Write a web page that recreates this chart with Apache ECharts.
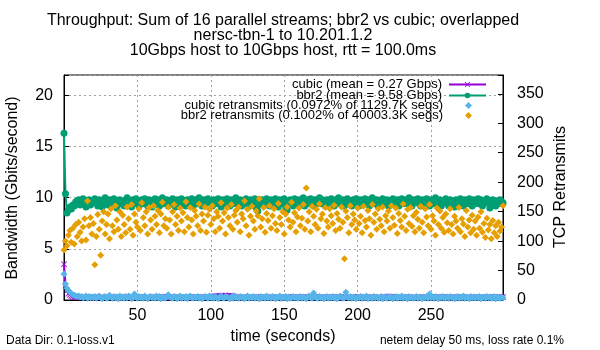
<!DOCTYPE html>
<html>
<head>
<meta charset="utf-8">
<script src="https://cdn.jsdelivr.net/npm/echarts@6/dist/echarts.min.js"></script>
<style>
  html, body { margin: 0; padding: 0; background: #fff; }
  #chart { width: 600px; height: 350px; }
</style>
</head>
<body>
<div id="chart"></div>
<script>
// one sample per second, t = 0 .. 299
var cubicGbps = [
  3.5,1.4,0.9,0.6,0.5,0.4,0.35,0.3,0.3,0.25,0.3,0.28,0.25,0.3,0.27,0.22,0.3,0.26,0.28,0.24,
  0.26,0.3,0.24,0.28,0.22,0.27,0.31,0.25,0.23,0.29,0.26,0.24,0.3,0.27,0.22,0.28,0.25,0.3,0.24,0.27,
  0.29,0.23,0.26,0.31,0.25,0.22,0.28,0.27,0.24,0.3,0.26,0.23,0.29,0.25,0.28,0.22,0.27,0.3,0.24,0.26,
  0.25,0.29,0.23,0.27,0.3,0.24,0.26,0.22,0.28,0.25,0.31,0.24,0.27,0.23,0.29,0.26,0.25,0.3,0.22,0.28,
  0.26,0.24,0.3,0.27,0.23,0.29,0.25,0.28,0.22,0.26,0.3,0.24,0.27,0.25,0.29,0.23,0.28,0.26,0.31,0.24,
  0.28,0.32,0.35,0.38,0.4,0.42,0.38,0.41,0.44,0.4,0.43,0.39,0.42,0.45,0.4,0.37,0.33,0.3,0.27,0.25,
  0.27,0.23,0.29,0.26,0.24,0.3,0.22,0.28,0.25,0.27,0.23,0.29,0.26,0.24,0.3,0.25,0.28,0.22,0.27,0.26,
  0.24,0.29,0.25,0.27,0.23,0.3,0.26,0.22,0.28,0.25,0.29,0.24,0.27,0.31,0.25,0.23,0.28,0.26,0.3,0.24,
  0.27,0.25,0.22,0.29,0.26,0.3,0.24,0.28,0.23,0.27,0.25,0.3,0.26,0.22,0.28,0.24,0.29,0.27,0.25,0.23,
  0.28,0.26,0.3,0.24,0.27,0.22,0.29,0.25,0.28,0.26,0.23,0.3,0.27,0.25,0.29,0.24,0.26,0.31,0.23,0.27,
  0.25,0.29,0.26,0.23,0.3,0.27,0.24,0.28,0.22,0.26,0.3,0.25,0.27,0.23,0.29,0.26,0.24,0.28,0.25,0.3,
  0.32,0.35,0.33,0.3,0.27,0.24,0.28,0.26,0.23,0.29,0.25,0.27,0.3,0.24,0.26,0.22,0.28,0.25,0.29,0.27,
  0.24,0.3,0.26,0.23,0.28,0.25,0.29,0.27,0.22,0.26,0.3,0.24,0.28,0.25,0.27,0.23,0.29,0.26,0.31,0.25,
  0.27,0.24,0.29,0.26,0.22,0.28,0.25,0.3,0.27,0.23,0.26,0.29,0.24,0.28,0.25,0.27,0.3,0.22,0.26,0.28,
  0.25,0.29,0.24,0.27,0.3,0.26,0.23,0.28,0.25,0.27,0.29,0.24,0.26,0.3,0.25,0.28,0.23,0.27,0.26,0.29
];
var bbr2Gbps = [
  16.3,10.4,8.5,8.8,9.1,8.9,9.3,9.2,9.6,9.4,9.8,9.3,9.7,9.9,9.4,9.1,9.7,9.8,9.3,9.6,
  9.5,9.9,9.6,9.2,9.8,9.4,9.1,9.7,10.0,9.6,9.3,9.8,9.4,9.6,9.9,9.5,9.0,9.7,9.8,9.4,
  9.6,9.2,9.8,10.0,9.4,9.7,9.1,9.8,9.5,9.9,9.4,9.2,9.7,9.8,9.4,9.9,9.6,9.2,9.8,9.5,
  9.1,9.7,9.9,9.4,9.8,9.2,9.6,10.0,9.4,9.6,9.8,9.2,9.7,9.4,9.9,9.6,9.1,9.8,9.4,9.6,
  9.9,9.4,9.7,9.2,9.8,9.6,9.4,9.9,9.2,9.7,9.8,9.4,10.0,9.6,9.2,9.8,9.4,9.7,9.9,9.5,
  9.6,9.2,9.8,9.4,9.7,9.9,9.4,9.1,9.8,9.6,9.4,9.9,9.7,9.2,9.8,9.4,9.6,10.0,9.4,9.7,
  9.8,9.2,9.6,9.4,9.9,9.7,9.2,9.8,9.4,9.6,9.9,9.0,8.7,9.3,9.7,9.8,9.4,9.6,9.9,9.5,
  9.2,9.8,9.6,9.4,9.9,9.7,9.1,9.8,9.4,9.6,9.9,9.0,8.8,9.5,9.8,9.6,9.2,9.9,9.4,9.7,
  9.8,9.4,9.6,10.0,9.2,9.7,9.8,9.4,9.9,9.6,9.2,9.8,9.4,9.7,10.0,9.4,9.8,9.6,9.2,9.8,
  9.4,9.7,9.9,9.4,9.2,9.8,9.6,10.0,9.4,9.7,9.8,9.2,9.6,9.9,9.4,9.7,9.2,9.8,9.5,9.9,
  9.6,9.2,9.8,9.4,9.7,9.9,9.4,9.8,9.2,9.6,10.0,9.4,9.7,9.8,9.2,9.6,9.4,9.9,9.7,9.4,
  9.8,9.2,9.6,9.4,9.9,9.7,9.4,9.8,9.2,9.6,9.9,9.4,9.7,9.8,9.4,10.0,9.6,9.2,9.8,9.5,
  9.7,9.9,9.4,9.2,9.8,9.6,9.4,9.9,9.7,9.2,9.8,9.4,9.6,10.0,9.4,9.7,9.8,9.2,9.6,9.5,
  9.9,9.6,9.2,9.8,9.4,9.7,9.1,9.8,9.4,9.6,9.9,9.4,9.2,9.8,9.6,9.4,9.9,9.7,9.2,9.8,
  9.4,9.7,9.9,9.4,9.8,9.2,9.6,9.5,9.9,9.7,9.0,9.4,9.8,9.6,9.2,9.7,9.4,9.8,9.6,9.5
];
var cubicRetrans = [
  44,27,20,16,13,11,9,8,7,6,7,5,6,4,5,7,3,6,4,5,
  4,6,3,5,7,4,2,5,6,3,4,8,5,3,6,4,5,2,7,4,
  5,3,6,4,7,5,2,4,10,5,3,6,4,5,3,7,4,2,5,6,
  4,5,3,7,4,6,2,5,4,3,6,9,5,4,3,6,5,2,4,7,
  3,5,4,6,2,5,7,4,3,5,4,6,3,5,2,4,6,5,3,7,
  4,5,3,6,4,2,5,7,4,3,6,5,4,2,5,3,7,4,5,3,
  6,4,5,2,4,7,3,5,4,6,3,5,4,2,6,4,5,3,7,4,
  5,3,6,4,2,5,4,7,3,5,4,6,2,5,3,4,6,4,5,3,
  4,6,3,5,4,2,5,7,4,3,12,5,4,3,6,4,5,2,4,6,
  3,5,4,6,3,5,2,4,7,5,3,4,13,5,4,6,3,5,4,2,
  5,4,6,3,5,4,7,2,4,5,3,6,4,5,3,4,6,2,5,4,
  3,6,4,5,2,4,6,3,5,4,7,3,5,4,2,6,4,5,3,4,
  6,3,5,4,2,5,4,6,3,10,4,5,3,6,4,2,5,4,6,3,
  4,5,3,6,4,5,2,4,6,3,5,4,7,3,5,4,2,6,4,5,
  3,5,4,6,2,4,5,3,6,4,5,3,4,6,2,5,4,3,5,4
];
var bbr2Retrans = [
  85,100,92,110,118,98,122,95,128,108,132,115,100,124,138,102,168,126,140,112,
  130,60,108,145,120,76,134,150,112,128,146,104,155,126,116,160,136,120,150,108,
  144,128,114,158,138,120,162,110,146,132,124,155,118,165,140,126,150,112,157,136,
  120,160,142,128,152,114,146,166,126,138,122,158,136,112,150,162,128,142,118,156,
  134,148,116,167,140,124,157,136,112,152,142,126,163,118,146,134,158,115,144,154,
  128,160,138,116,150,142,122,165,134,148,112,156,140,126,162,120,144,152,132,158,
  116,146,138,168,126,154,110,142,159,134,120,151,143,172,124,138,157,115,147,135,
  160,122,143,155,130,118,164,140,128,150,112,146,158,136,124,166,132,148,116,141,
  156,126,139,162,120,190,134,150,116,159,142,128,154,122,163,138,146,113,157,134,
  124,155,143,130,161,118,147,137,122,158,132,70,151,140,114,160,128,146,136,120,
  156,130,142,114,159,135,124,152,138,110,162,132,146,120,155,137,126,158,116,143,
  134,151,122,160,140,127,156,113,147,135,124,163,142,118,154,130,157,125,143,116,
  149,137,122,159,132,114,155,141,126,162,120,143,134,110,156,128,151,122,140,115,
  146,131,118,155,128,112,142,134,122,157,116,138,129,108,152,124,136,114,144,120,
  134,110,141,122,150,115,130,106,139,119,128,104,135,114,126,108,132,117,124,160
];
var seriesNames = [
  'cubic (mean = 0.27 Gbps)',
  'bbr2 (mean = 9.58 Gbps)',
  'cubic retransmits (0.0972% of 1129.7K segs)',
  'bbr2 retransmits (0.1002% of 40003.3K segs)'
];
var titleLines = [
  'Throughput: Sum of 16 parallel streams; bbr2 vs cubic; overlapped',
  'nersc-tbn-1 to 10.201.1.2',
  '10Gbps host to 10Gbps host, rtt = 100.0ms'
];

function pairs(arr) {
  return arr.map(function (v, i) { return [i, v]; });
}

var FONT = 'Liberation Sans, Arial, sans-serif';
var xMark = 'path://M0,1 L1,0 L5,4 L9,0 L10,1 L6,5 L10,9 L9,10 L5,6 L1,10 L0,9 L4,5 Z';
var diamond = 'path://M5,0 L10,5 L5,10 L0,5 Z';
var grey = '#a0a0a0';

var legendRows = [84, 95, 105, 115];
var legends = seriesNames.map(function (n, i) {
  var isScatter = i >= 2;
  return {
    data: [n],
    right: isScatter ? 128 : 113,
    top: legendRows[i] - 6,
    padding: 0,
    align: 'right',
    itemWidth: isScatter ? 7 : 37,
    itemHeight: 7,
    selectedMode: false,
    textStyle: {
      fontFamily: FONT, fontSize: 13, color: '#000',
      padding: [0, isScatter ? 17 : 2, 0, 0]
    }
  };
});

var myChart = echarts.init(document.getElementById('chart'));
var option = {
  animation: false,
  grid: {
    left: 64, right: 97, top: 75, bottom: 50,
    show: true, borderColor: '#000', borderWidth: 1
  },
  legend: legends,
  xAxis: {
    type: 'value', min: 0, max: 299, interval: 50,
    axisLine: { lineStyle: { color: '#000' } },
    axisTick: { inside: true, length: 5, lineStyle: { color: '#000' } },
    axisLabel: {
      margin: 8, color: '#000', fontFamily: FONT, fontSize: 16,
      formatter: function (v) { return (v === 0 || v % 50) ? '' : v; }
    },
    splitLine: { show: true, lineStyle: { color: grey, type: [2, 3] } }
  },
  yAxis: [{
    type: 'value', min: 0, max: 22, interval: 5,
    axisLine: { show: true, lineStyle: { color: '#000' } },
    axisTick: { show: true, inside: true, length: 5, lineStyle: { color: '#000' } },
    axisLabel: {
      margin: 11, color: '#000', fontFamily: FONT, fontSize: 16,
      formatter: function (v) { return v % 5 ? '' : v; }
    },
    splitLine: { show: true, lineStyle: { color: grey, type: [2, 3] } }
  }, {
    type: 'value', min: 0, max: 382, interval: 50, position: 'right',
    axisLine: { show: true, lineStyle: { color: '#000' } },
    axisTick: { show: true, inside: true, length: 5, lineStyle: { color: '#000' } },
    axisLabel: {
      margin: 14, color: '#000', fontFamily: FONT, fontSize: 16,
      formatter: function (v) { return v % 50 ? '' : v; }
    },
    splitLine: { show: false }
  }],
  series: [{
    name: seriesNames[0], type: 'line', data: pairs(cubicGbps), z: 2,
    symbol: xMark, symbolSize: 6, showAllSymbol: true,
    itemStyle: { color: '#9400d3' }, lineStyle: { color: '#9400d3', width: 2 }
  }, {
    name: seriesNames[1], type: 'line', data: pairs(bbr2Gbps), z: 3,
    symbol: 'circle', symbolSize: 7, showAllSymbol: true,
    itemStyle: { color: '#009e73' }, lineStyle: { color: '#009e73', width: 2 }
  }, {
    name: seriesNames[2], type: 'scatter', yAxisIndex: 1, data: pairs(cubicRetrans), z: 4,
    symbol: diamond, symbolSize: 7, itemStyle: { color: '#56b4e9', opacity: 1 }
  }, {
    name: seriesNames[3], type: 'scatter', yAxisIndex: 1, data: pairs(bbr2Retrans), z: 5,
    symbol: diamond, symbolSize: 7, itemStyle: { color: '#e69f00', opacity: 1 }
  }],
  graphic: [
    { type: 'text', x: 283, y: 21, style: { text: titleLines[0], font: '16px ' + FONT, fill: '#000', textAlign: 'center', textVerticalAlign: 'middle' } },
    { type: 'text', x: 283, y: 36, style: { text: titleLines[1], font: '16px ' + FONT, fill: '#000', textAlign: 'center', textVerticalAlign: 'middle' } },
    { type: 'text', x: 283, y: 51, style: { text: titleLines[2], font: '16px ' + FONT, fill: '#000', textAlign: 'center', textVerticalAlign: 'middle' } },
    { type: 'text', x: 13, y: 188, rotation: Math.PI / 2, style: { text: 'Bandwidth (Gbits/second)', font: '16px ' + FONT, fill: '#000', textAlign: 'center', textVerticalAlign: 'middle' } },
    { type: 'text', x: 561, y: 187, rotation: Math.PI / 2, style: { text: 'TCP Retransmits', font: '16px ' + FONT, fill: '#000', textAlign: 'center', textVerticalAlign: 'middle' } },
    { type: 'text', x: 283, y: 337, style: { text: 'time (seconds)', font: '16px ' + FONT, fill: '#000', textAlign: 'center', textVerticalAlign: 'middle' } },
    { type: 'text', x: 6, y: 341, style: { text: 'Data Dir: 0.1-loss.v1', font: '12px ' + FONT, fill: '#000', textAlign: 'left', textVerticalAlign: 'middle' } },
    { type: 'text', x: 564, y: 341, style: { text: 'netem delay 50 ms, loss rate 0.1%', font: '12px ' + FONT, fill: '#000', textAlign: 'right', textVerticalAlign: 'middle' } }
  ]
};
myChart.setOption(option);
</script>
</body>
</html>
